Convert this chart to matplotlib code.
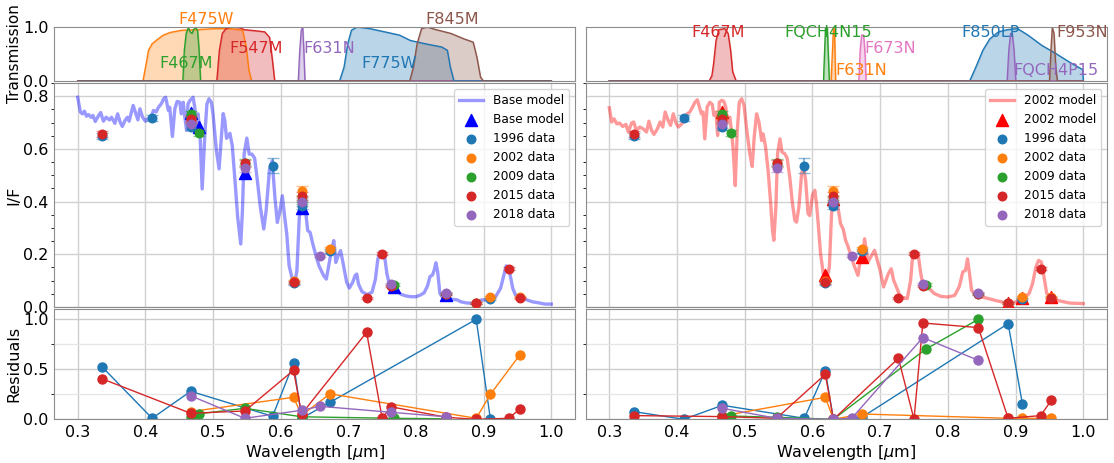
import numpy as np
import matplotlib.pyplot as plt
from matplotlib.ticker import MultipleLocator, FormatStrFormatter

# ---------------------------------------------------------------- model spectra
base_wl = [0.300, 0.304, 0.307, 0.310, 0.313, 0.316, 0.320, 0.3225, 0.326, 0.331,
           0.334, 0.338, 0.342, 0.347, 0.350, 0.355, 0.359, 0.363, 0.366, 0.370,
           0.3735, 0.376, 0.382, 0.386, 0.389, 0.392, 0.396, 0.400, 0.403, 0.407,
           0.412, 0.416, 0.419, 0.424, 0.427, 0.430, 0.434, 0.436, 0.440, 0.4436,
           0.447, 0.451, 0.453, 0.456, 0.458, 0.461, 0.463, 0.466, 0.4706, 0.473,
           0.4755, 0.478, 0.481, 0.484, 0.488, 0.491, 0.494, 0.4975, 0.500, 0.505,
           0.509, 0.5125, 0.515, 0.5175, 0.520, 0.525, 0.5285, 0.5325, 0.5365, 0.541,
           0.5435, 0.546, 0.550, 0.5535, 0.5575, 0.5615, 0.565, 0.570, 0.575, 0.5785,
           0.5835, 0.5875, 0.5915, 0.595, 0.5985, 0.6025, 0.606, 0.609, 0.6125, 0.6165,
           0.621, 0.624, 0.6275, 0.630, 0.6335, 0.6365, 0.640, 0.6435, 0.6475, 0.6515,
           0.6565, 0.660, 0.6635, 0.6675, 0.6715, 0.675, 0.6785, 0.6815, 0.685, 0.6885,
           0.6925, 0.6975, 0.7015, 0.7065, 0.710, 0.7125, 0.715, 0.720, 0.7275, 0.735,
           0.740, 0.7435, 0.747, 0.750, 0.7534, 0.7569, 0.7608, 0.7657, 0.7706, 0.778,
           0.7853, 0.7926, 0.800, 0.807, 0.812, 0.817, 0.8206, 0.8245, 0.827, 0.8294,
           0.832, 0.8353, 0.839, 0.8466, 0.854, 0.861, 0.866, 0.8735, 0.881, 0.887,
           0.890, 0.897, 0.903, 0.910, 0.9176, 0.925, 0.930, 0.9333, 0.936, 0.9397,
           0.943, 0.947, 0.9544, 0.9618, 0.9716, 0.981, 0.991, 1.000]
base_if = [0.796, 0.740, 0.733, 0.743, 0.724, 0.730, 0.720, 0.727, 0.704, 0.727,
           0.738, 0.705, 0.720, 0.710, 0.720, 0.697, 0.733, 0.700, 0.685, 0.708,
           0.720, 0.705, 0.765, 0.733, 0.710, 0.752, 0.720, 0.705, 0.714, 0.710,
           0.746, 0.740, 0.756, 0.773, 0.790, 0.796, 0.746, 0.758, 0.647, 0.752,
           0.780, 0.777, 0.733, 0.777, 0.727, 0.670, 0.770, 0.784, 0.796, 0.758,
           0.695, 0.733, 0.644, 0.448, 0.657, 0.770, 0.790, 0.777, 0.733, 0.594,
           0.524, 0.650, 0.734, 0.707, 0.640, 0.659, 0.612, 0.479, 0.340, 0.239,
           0.365, 0.580, 0.641, 0.580, 0.580, 0.565, 0.492, 0.378, 0.296, 0.365,
           0.523, 0.555, 0.416, 0.321, 0.359, 0.422, 0.340, 0.277, 0.157, 0.113,
           0.094, 0.138, 0.340, 0.378, 0.390, 0.372, 0.290, 0.283, 0.239, 0.201,
           0.157, 0.138, 0.119, 0.106, 0.163, 0.214, 0.252, 0.169, 0.195, 0.214,
           0.163, 0.094, 0.072, 0.094, 0.119, 0.125, 0.087, 0.059, 0.047, 0.056,
           0.105, 0.180, 0.210, 0.206, 0.197, 0.128, 0.084, 0.071, 0.062, 0.048,
           0.042, 0.039, 0.039, 0.046, 0.054, 0.080, 0.115, 0.122, 0.140, 0.168,
           0.134, 0.052, 0.037, 0.033, 0.029, 0.027, 0.020, 0.016, 0.014, 0.011,
           0.016, 0.027, 0.027, 0.033, 0.039, 0.071, 0.122, 0.156, 0.153, 0.115,
           0.071, 0.046, 0.039, 0.029, 0.020, 0.016, 0.011, 0.011]

m2002_wl = [0.300, 0.3035, 0.307, 0.311, 0.315, 0.320, 0.3245, 0.328, 0.333, 0.336,
            0.340, 0.345, 0.350, 0.355, 0.3585, 0.3625, 0.366, 0.371, 0.375, 0.379,
            0.3825, 0.387, 0.3905, 0.3945, 0.3985, 0.402, 0.407, 0.412, 0.415, 0.419,
            0.423, 0.4265, 0.430, 0.433, 0.436, 0.4385, 0.441, 0.4445, 0.4485, 0.452,
            0.4545, 0.4575, 0.460, 0.4625, 0.466, 0.469, 0.472, 0.4745, 0.478, 0.481,
            0.483, 0.486, 0.489, 0.492, 0.4955, 0.499, 0.5025, 0.5075, 0.511, 0.514,
            0.5175, 0.521, 0.525, 0.527, 0.5305, 0.5345, 0.538, 0.541, 0.543, 0.546,
            0.5485, 0.552, 0.555, 0.559, 0.5625, 0.5665, 0.5705, 0.574, 0.5765, 0.580,
            0.584, 0.587, 0.590, 0.5935, 0.596, 0.600, 0.6035, 0.606, 0.6085, 0.612,
            0.616, 0.621, 0.625, 0.628, 0.6305, 0.634, 0.638, 0.6415, 0.6455, 0.649,
            0.6525, 0.6574, 0.6623, 0.6672, 0.6706, 0.6736, 0.677, 0.682, 0.6917, 0.700,
            0.705, 0.712, 0.7163, 0.720, 0.725, 0.730, 0.740, 0.745, 0.748, 0.752,
            0.756, 0.760, 0.763, 0.770, 0.780, 0.790, 0.800, 0.810, 0.817, 0.822,
            0.826, 0.829, 0.832, 0.835, 0.840, 0.850, 0.860, 0.870, 0.880, 0.890,
            0.900, 0.910, 0.920, 0.925, 0.930, 0.934, 0.938, 0.942, 0.946, 0.955,
            0.965, 0.980, 1.000]
m2002_if = [0.756, 0.702, 0.714, 0.695, 0.698, 0.685, 0.693, 0.664, 0.698, 0.702,
            0.670, 0.683, 0.676, 0.664, 0.705, 0.670, 0.655, 0.676, 0.702, 0.683,
            0.740, 0.708, 0.689, 0.733, 0.698, 0.683, 0.695, 0.720, 0.733, 0.740,
            0.759, 0.777, 0.786, 0.759, 0.733, 0.740, 0.638, 0.759, 0.777, 0.769,
            0.727, 0.740, 0.651, 0.777, 0.784, 0.781, 0.759, 0.702, 0.720, 0.657,
            0.594, 0.461, 0.670, 0.777, 0.790, 0.765, 0.683, 0.582, 0.533, 0.645,
            0.733, 0.702, 0.632, 0.657, 0.613, 0.518, 0.405, 0.291, 0.253, 0.379,
            0.582, 0.638, 0.588, 0.582, 0.566, 0.493, 0.392, 0.329, 0.322, 0.379,
            0.506, 0.533, 0.480, 0.354, 0.347, 0.424, 0.443, 0.392, 0.316, 0.202,
            0.126, 0.101, 0.152, 0.341, 0.430, 0.417, 0.373, 0.316, 0.295, 0.253,
            0.230, 0.190, 0.152, 0.120, 0.177, 0.183, 0.259, 0.171, 0.215, 0.139,
            0.076, 0.126, 0.145, 0.101, 0.070, 0.038, 0.032, 0.101, 0.196, 0.209,
            0.202, 0.126, 0.088, 0.076, 0.051, 0.040, 0.038, 0.044, 0.078, 0.133,
            0.139, 0.183, 0.126, 0.063, 0.051, 0.038, 0.032, 0.025, 0.019, 0.015,
            0.019, 0.032, 0.051, 0.088, 0.152, 0.177, 0.171, 0.114, 0.051, 0.032,
            0.023, 0.015, 0.013]

# ---------------------------------------------------------------- observations
years = ["1996", "2002", "2009", "2015", "2018"]
year_colors = ["tab:blue", "tab:orange", "tab:green", "tab:red", "tab:purple"]

wl_1996 = [0.336, 0.410, 0.467, 0.588, 0.619, 0.631, 0.673, 0.889, 0.910]
if_1996 = [0.648, 0.716, 0.684, 0.536, 0.090, 0.385, 0.212, 0.015, 0.030]
err_1996 = [0.012, 0.012, 0.012, 0.028, 0.006, 0.015, 0.008, 0.003, 0.004]

wl_2002 = [0.467, 0.619, 0.631, 0.673, 0.889, 0.910, 0.953]
if_2002 = [0.712, 0.097, 0.440, 0.220, 0.016, 0.038, 0.037]
err_2002 = [0.012, 0.006, 0.020, 0.008, 0.003, 0.004, 0.004]

wl_2009 = [0.467, 0.479, 0.547, 0.631, 0.767, 0.845]
if_2009 = [0.733, 0.661, 0.548, 0.406, 0.085, 0.048]
err_2009 = [0.012, 0.012, 0.012, 0.015, 0.005, 0.004]

wl_2015 = [0.336, 0.467, 0.547, 0.619, 0.631, 0.727, 0.750, 0.763, 0.845, 0.889, 0.937, 0.953]
if_2015 = [0.656, 0.715, 0.545, 0.094, 0.421, 0.033, 0.203, 0.080, 0.050, 0.016, 0.145, 0.034]
err_2015 = [0.012, 0.012, 0.012, 0.006, 0.015, 0.004, 0.005, 0.004, 0.004, 0.003, 0.006, 0.004]

wl_2018 = [0.467, 0.547, 0.631, 0.658, 0.763, 0.845]
if_2018 = [0.693, 0.526, 0.400, 0.195, 0.086, 0.054]
err_2018 = [0.012, 0.012, 0.015, 0.005, 0.004, 0.004]

obs_wl = [wl_1996, wl_2002, wl_2009, wl_2015, wl_2018]
obs_if = [if_1996, if_2002, if_2009, if_2015, if_2018]
obs_err = [err_1996, err_2002, err_2009, err_2015, err_2018]

# model integrated over the filters of the fitted year
base_filt_wl = wl_2009
base_filt_if = [0.737, 0.684, 0.509, 0.377, 0.077, 0.045]
m2002_filt_wl = wl_2002
m2002_filt_if = [0.740, 0.121, 0.410, 0.190, 0.016, 0.034, 0.038]

# normalised residuals |data - model|, one list per year
res_base = [
    [0.525, 0.01, 0.28, 0.03, 0.56, 0.01, 0.17, 1.0, 0.0],
    [0.077, 0.22, 0.04, 0.255, 0.01, 0.25, 0.64],
    [0.02, 0.055, 0.11, 0.025, 0.01, 0.005],
    [0.405, 0.06, 0.083, 0.49, 0.053, 0.87, 0.01, 0.125, 0.02, 0.0, 0.01, 0.1],
    [0.235, 0.01, 0.09, 0.13, 0.07, 0.025],
]
res_2002 = [
    [0.077, 0.0, 0.14, 0.01, 0.485, 0.0, 0.02, 0.957, 0.156],
    [0.033, 0.22, 0.0, 0.053, 0.01, 0.01, 0.01],
    [0.03, 0.033, 0.02, 0.0, 0.70, 1.0],
    [0.037, 0.027, 0.01, 0.45, 0.0, 0.61, 0.0, 0.963, 0.917, 0.01, 0.037, 0.193],
    [0.11, 0.01, 0.0, 0.01, 0.817, 0.59],
]

# ---------------------------------------------------------------- filters
# (name, colour, wavelength, transmission, label x, label y)
filters_base = [
    ("F475W", "tab:orange",
     [0.3965, 0.4003, 0.4047, 0.410, 0.418, 0.4265, 0.437, 0.454, 0.4756, 0.503, 0.525, 0.5437, 0.549, 0.553, 0.557],
     [0.0, 0.26, 0.57, 0.69, 0.77, 0.85, 0.90, 0.94, 0.95, 0.97, 0.97, 0.94, 0.63, 0.20, 0.0],
     0.490, 1.14),
    ("F467M", "tab:green",
     [0.4554, 0.4576, 0.4603, 0.4636, 0.4663, 0.469, 0.4712, 0.4745, 0.4772, 0.4794, 0.4816],
     [0.0, 0.57, 0.88, 0.99, 0.91, 0.88, 0.95, 0.99, 0.93, 0.57, 0.0],
     0.461, 0.32),
    ("F547M", "tab:red",
     [0.5056, 0.5094, 0.5137, 0.5192, 0.5274, 0.5383, 0.5465, 0.5628, 0.5764, 0.5835, 0.5873, 0.5912],
     [0.0, 0.57, 0.88, 0.97, 1.0, 0.99, 0.95, 0.93, 0.91, 0.81, 0.44, 0.0],
     0.563, 0.61),
    ("F631N", "tab:purple",
     [0.626, 0.6282, 0.6304, 0.6326, 0.6342, 0.6359],
     [0.0, 0.57, 0.94, 1.0, 0.57, 0.0],
     0.672, 0.61),
    ("F775W", "tab:blue",
     [0.6871, 0.6937, 0.6991, 0.7046, 0.7128, 0.7318, 0.7537, 0.7755, 0.7918, 0.8136, 0.838, 0.8463, 0.8507, 0.8561],
     [0.0, 0.26, 0.69, 0.94, 1.0, 0.97, 0.91, 0.85, 0.75, 0.69, 0.63, 0.57, 0.26, 0.0],
     0.760, 0.32),
    ("F845M", "tab:brown",
     [0.7907, 0.7962, 0.8016, 0.8082, 0.8164, 0.830, 0.8518, 0.8709, 0.8845, 0.890, 0.8954, 0.8998],
     [0.0, 0.26, 0.69, 0.97, 1.0, 0.95, 0.88, 0.78, 0.72, 0.44, 0.07, 0.0],
     0.853, 1.14),
]
filters_2002 = [
    ("F467M", "tab:red",
     [0.4474, 0.4515, 0.454, 0.4576, 0.4617, 0.4704, 0.4755, 0.4791, 0.4822, 0.4873],
     [0.0, 0.10, 0.32, 0.75, 0.95, 0.97, 0.88, 0.57, 0.17, 0.0],
     0.460, 0.90),
    ("FQCH4N15", "tab:green",
     [0.6163, 0.6178, 0.6193, 0.6219, 0.6234, 0.625],
     [0.0, 0.5, 1.0, 1.0, 0.5, 0.0],
     0.623, 0.90),
    ("F631N", "tab:orange",
     [0.6275, 0.6296, 0.6311, 0.6326, 0.6342],
     [0.0, 0.57, 1.0, 0.94, 0.0],
     0.672, 0.20),
    ("F673N", "tab:pink",
     [0.6685, 0.6705, 0.6726, 0.6756, 0.6777, 0.6792],
     [0.0, 0.57, 0.85, 0.85, 0.5, 0.0],
     0.715, 0.60),
    ("F850LP", "tab:blue",
     [0.8322, 0.8414, 0.8517, 0.8619, 0.8747, 0.8875, 0.9029, 0.9182, 0.9387, 0.9592, 0.9796, 0.9991, 1.0],
     [0.0, 0.26, 0.57, 0.78, 0.91, 0.95, 0.97, 0.85, 0.66, 0.51, 0.35, 0.21, 0.0],
     0.863, 0.90),
    ("FQCH4P15", "tab:purple",
     [0.8875, 0.890, 0.8926, 0.8951, 0.8977, 0.9003],
     [0.0, 0.57, 0.88, 0.88, 0.57, 0.0],
     0.959, 0.20),
    ("F953N", "tab:brown",
     [0.950, 0.9522, 0.9542, 0.9567, 0.9593, 0.9618],
     [0.0, 0.57, 0.99, 0.88, 0.26, 0.0],
     0.998, 0.90),
]

W, H = 1114, 463
cols = [(54, 575), (585.6, 1107)]
rows = [(27, 81), (83, 307), (309.3, 419.3)]


def rect(col, row):
    (x0, x1), (y0, y1) = cols[col], rows[row]
    return [x0 / W, 1 - y1 / H, (x1 - x0) / W, (y1 - y0) / H]


def style(ax):
    for s in ax.spines.values():
        s.set_color("0.55")
    ax.tick_params(which="major", labelsize=11.5, length=0, pad=4)
    ax.tick_params(which="minor", length=2)
    ax.set_xlim(0.265, 1.035)
    ax.set_xticks(np.arange(0.3, 1.01, 0.1))


fig = plt.figure(figsize=(W / 100, H / 100), dpi=100)

panels = [
    ("Base model", "blue", (0, 0, 1), base_wl, base_if, base_filt_wl, base_filt_if, filters_base, res_base),
    ("2002 model", "red", (1, 0, 0), m2002_wl, m2002_if, m2002_filt_wl, m2002_filt_if, filters_2002, res_2002),
]

for col, (name, mcol, tri_col, mwl, mif, fwl, fif, filters, resid) in enumerate(panels):
    ax_t = fig.add_axes(rect(col, 0))
    ax_m = fig.add_axes(rect(col, 1))
    ax_r = fig.add_axes(rect(col, 2))

    # filter transmission curves
    for fname, c, fw, ft, lx, ly in filters:
        w = [0.3] + fw + [1.0]
        t = [0.0] + ft + [0.0]
        ax_t.plot(w, t, color=c, lw=1)
        ax_t.fill_between(w, t, color=c, alpha=0.3)
        ax_t.text(lx, ly, fname, color=c, fontsize=11.5, ha="center", va="center")
    style(ax_t)
    ax_t.set_ylim(0, 1)
    ax_t.set_yticks([0, 1])
    ax_t.yaxis.set_major_formatter(FormatStrFormatter("%.1f"))
    ax_t.tick_params(axis="x", labelbottom=False)

    # spectrum + photometry
    ax_m.plot(mwl, mif, color=mcol, alpha=0.4, lw=2.4, label=name)
    ax_m.scatter(fwl, fif, marker="^", s=75, color=tri_col, label=name, zorder=3)
    for yr, c, w, v, e in zip(years, year_colors, obs_wl, obs_if, obs_err):
        ax_m.errorbar(w, v, yerr=e, fmt="none", ecolor=c, alpha=0.5, capsize=4, lw=1.5, zorder=4)
        ax_m.scatter(w, v, s=38, color=c, label=f"{yr} data", zorder=5)
    style(ax_m)
    ax_m.set_ylim(0, 0.85)
    ax_m.yaxis.set_minor_locator(MultipleLocator(0.05))
    ax_m.grid(True, color="0.82", lw=1)
    ax_m.tick_params(axis="x", labelbottom=False)
    ax_m.legend(loc="upper right", fontsize=8.7, framealpha=0.8)

    # residuals
    for c, w, r in zip(year_colors, obs_wl, resid):
        ax_r.plot(w, r, "o-", color=c, lw=1, ms=6.5)
    style(ax_r)
    ax_r.set_ylim(0, 1.1)
    ax_r.yaxis.set_major_locator(MultipleLocator(0.5))
    ax_r.yaxis.set_minor_locator(MultipleLocator(0.25))
    ax_r.grid(True, which="major", color="0.8", lw=1)
    ax_r.grid(True, which="minor", color="0.9", lw=1)
    ax_r.set_xlabel(r"Wavelength [$\mu$m]", fontsize=11.5, labelpad=2)

    if col == 0:
        ax_t.set_ylabel("Transmission", fontsize=11, labelpad=1)
        ax_m.set_ylabel("I/F", fontsize=11.5, labelpad=1)
        ax_r.set_ylabel("Residuals", fontsize=11.5, labelpad=1)
    else:
        for a in (ax_t, ax_m, ax_r):
            a.tick_params(axis="y", labelleft=False)

fig.savefig("out.png", dpi=100)
